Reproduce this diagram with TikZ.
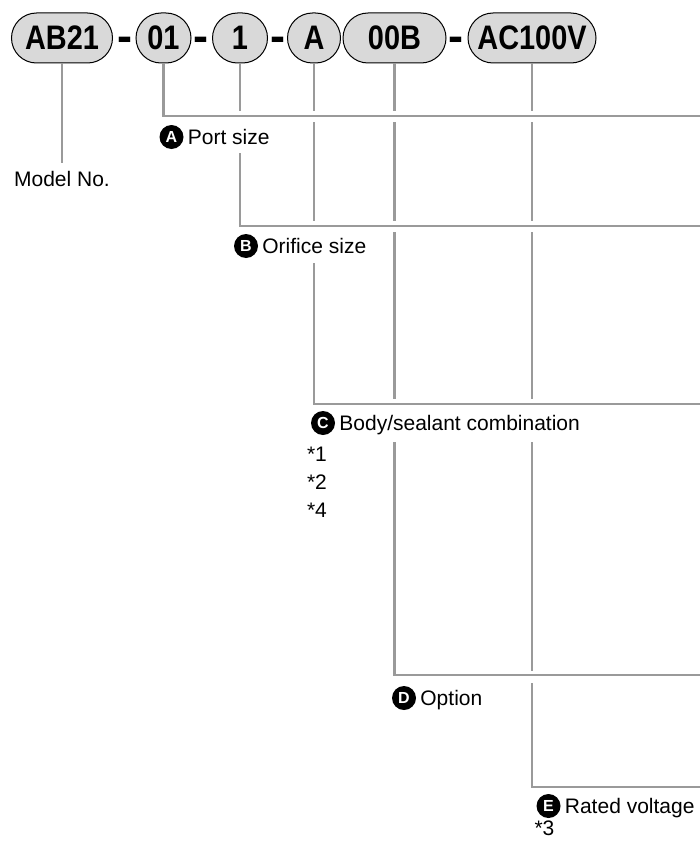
\documentclass[tikz,border=0pt]{standalone}
\usepackage{fontspec}
\setmainfont{Liberation Sans}
\newfontfamily\pillfont[FakeStretch=0.85]{Liberation Sans}
\usepackage{xcolor}
\usetikzlibrary{positioning}
\definecolor{pillgray}{HTML}{D9D9D9}
\definecolor{leadgray}{HTML}{9A9A9A}

\tikzset{
  pill/.style={draw=black, line width=1pt, fill=pillgray, rounded corners=25pt,
    minimum height=50pt, inner sep=0pt, font=\pillfont\bfseries\fontsize{34}{34}\selectfont},
  hyph/.style={inner sep=0pt, anchor=base, font=\bfseries\fontsize{45}{45}\selectfont},
  badge/.style={circle, fill=black, text=white, minimum size=24pt, inner sep=0pt,
    font=\bfseries\fontsize{16}{16}\selectfont},
  lbl/.style={inner sep=0pt, text height=15pt, text depth=0pt, font=\fontsize{21}{25}\selectfont},
  lead/.style={draw=leadgray, line width=2.2pt},
}

\begin{document}
\begin{tikzpicture}[x=1pt, y=-1pt]
  \useasboundingbox (0,0) rectangle (699,843);

  \node[pill, minimum width=101pt] (pModel) at (62,38) {AB21};
  \node[pill, minimum width=55pt] (pPort) at (163.5,38) {01};
  \node[pill, minimum width=55pt] (pOrif) at (240,38) {1};
  \node[pill, minimum width=53pt] (pBody) at (314,38) {A};
  \node[pill, minimum width=103pt] (pOpt) at (394.5,38) {00B};
  \node[pill, minimum width=128pt] (pVolt) at (532,38) {AC100V};
  \node[hyph] (h1) at (125,52) {-};
  \node[hyph] (h2) at (201,52) {-};
  \node[hyph] (h3) at (277.5,52) {-};
  \node[hyph] (h4) at (456,52) {-};

  \node[lbl, below=108pt of pModel] (tModel) {Model No.};
  \node[badge] (bA) at (171.5,137) {A};
  \node[lbl, right=4pt of bA] (tA) {Port size};
  \node[badge] (bB) at (246,246) {B};
  \node[lbl, right=4pt of bB] (tB) {Orifice size};
  \node[badge] (bC) at (323,423) {C};
  \node[lbl, right=4pt of bC] (tC) {Body/sealant combination};
  \node[badge] (bD) at (404,698) {D};
  \node[lbl, right=4pt of bD] (tD) {Option};
  \node[badge] (bE) at (548.5,806) {E};
  \node[lbl, right=4pt of bE] (tE) {Rated voltage};

  \node[lbl, anchor=west] (n1) at ([xshift=-4pt, yshift=-31pt]bC.west) {*1};
  \node[lbl, anchor=west] (n2) at ([yshift=-28pt]n1.west) {*2};
  \node[lbl, anchor=west] (n4) at ([yshift=-28pt]n2.west) {*4};
  \node[lbl, anchor=west] (n3) at ([xshift=-2pt, yshift=-22pt]bE.west) {*3};

  \coordinate (eA) at (700,116);
  \coordinate (eB) at (700,226);
  \coordinate (eC) at (700,404);
  \coordinate (eD) at (700,675);
  \coordinate (eE) at (700,787);

  \draw[lead, shorten >=9pt] (pModel.south) -- (tModel.north);
  \draw[lead] (pPort.south) |- (eA);
  \draw[lead, shorten >=5pt] (pOrif.south) -- (pOrif.south |- eA);
  \draw[lead, shorten <=8.5pt] (pOrif.south |- tA.south) |- (eB);
  \foreach \p in {pBody,pOpt,pVolt} {
    \draw[lead, shorten >=5pt] (\p.south) -- (\p.south |- eA);
    \draw[lead, shorten <=6pt, shorten >=5pt] (\p.south |- eA) -- (\p.south |- eB);
  }
  \draw[lead, shorten <=9.5pt] (pBody.south |- tB.south) |- (eC);
  \foreach \p in {pOpt,pVolt}
    \draw[lead, shorten <=6pt, shorten >=5pt] (\p.south |- eB) -- (\p.south |- eC);
  \draw[lead, shorten <=11.5pt] (pOpt.south |- tC.south) |- (eD);
  \draw[lead, shorten <=11.5pt, shorten >=4pt] (pVolt.south |- tC.south) -- (pVolt.south |- eD);
  \draw[lead, shorten <=8pt] (pVolt.south |- eD) |- (eE);
\end{tikzpicture}
\end{document}
